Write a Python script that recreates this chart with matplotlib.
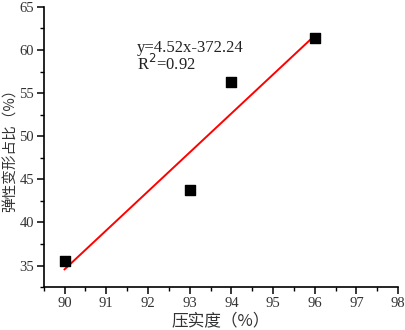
import matplotlib
matplotlib.use("Agg")
import matplotlib.pyplot as plt
import numpy as np
from matplotlib.ticker import MultipleLocator

# compaction degree vs. elastic deformation share
compaction = [90, 93, 94, 96]
elasticShare = [35.5, 43.8, 56.3, 61.4]

# linear fit reported in the chart
slope = 4.52
intercept = -372.24
r2 = 0.92

cjk = ['Noto Sans CJK SC', 'DejaVu Sans']
serif = ['Liberation Serif', 'DejaVu Serif']

fig = plt.figure(figsize=(4.05, 3.3), dpi=100)
ax = fig.add_axes([0.108, 0.130, 0.875, 0.849])

ax.scatter(compaction, elasticShare, marker='s', s=42, color='black', zorder=3)

xFit = np.array([compaction[0], compaction[-1]])
ax.plot(xFit, slope * xFit + intercept, color='red', linewidth=1.4, zorder=2)

ax.text(0.262, 0.84, "y=%.2fx%.2f" % (slope, intercept), transform=ax.transAxes,
        fontsize=12, family=serif, color='#222222')
ax.text(0.262, 0.775, "R$^2$=%.2f" % r2, transform=ax.transAxes,
        fontsize=12, family=serif, color='#222222')

ax.set_xlim(89.5, 98)
ax.set_ylim(32.5, 65)
ax.xaxis.set_major_locator(MultipleLocator(1))
ax.xaxis.set_minor_locator(MultipleLocator(0.5))
ax.yaxis.set_major_locator(MultipleLocator(5))
ax.yaxis.set_minor_locator(MultipleLocator(2.5))

ax.spines['top'].set_visible(False)
ax.spines['right'].set_visible(False)
for s in ['left', 'bottom']:
    ax.spines[s].set_linewidth(1.2)

ax.tick_params(which='major', direction='out', length=5, width=1.1, labelsize=10.5,
               labelcolor='#333333', pad=2)
ax.tick_params(which='minor', direction='out', length=3, width=1.0)
for lbl in ax.get_xticklabels() + ax.get_yticklabels():
    lbl.set_family(serif)

ax.set_xlabel("压实度（%）", family=cjk, fontsize=12, color='#333333')
ax.set_ylabel("弹性变形占比（%）", family=cjk, fontsize=10.5, color='#333333')
ax.xaxis.set_label_coords(0.5, -0.09)
ax.yaxis.set_label_coords(-0.074, 0.5)

fig.savefig("out.png", dpi=100)
